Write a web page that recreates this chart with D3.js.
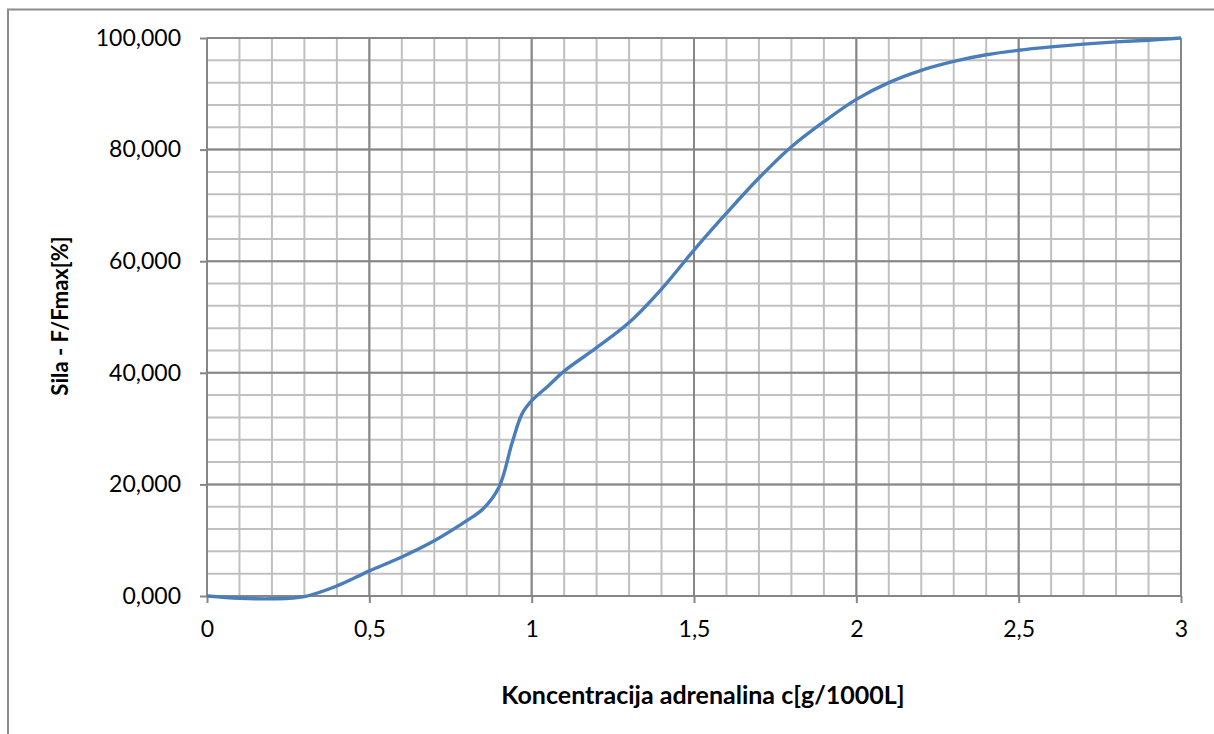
<!DOCTYPE html>
<html>
<head>
<meta charset="utf-8">
<script src="https://cdn.jsdelivr.net/npm/d3@7"></script>
<style>
  html, body { margin: 0; padding: 0; background: #fff; }
  svg { display: block; }
</style>
</head>
<body>
<svg id="chart" width="1214" height="734"></svg>
<script>
// ---- Data ----
const concentration = [0, 0.1, 0.2, 0.3, 0.4, 0.5, 0.6, 0.7, 0.8, 0.85, 0.9, 0.94, 0.97, 1.0, 1.05, 1.1, 1.2, 1.3, 1.4, 1.5, 1.6, 1.7, 1.8, 1.9, 2.0, 2.1, 2.2, 2.3, 2.4, 2.5, 2.6, 2.7, 2.8, 2.9, 3.0];
const force = [0, -0.4, -0.5, -0.1, 1.8, 4.5, 7.0, 9.9, 13.5, 15.6, 19.6, 27.5, 32.6, 35.0, 37.6, 40.3, 44.5, 49.0, 55.0, 62.0, 68.6, 74.9, 80.5, 85.0, 89.0, 92.0, 94.2, 95.8, 97.0, 97.8, 98.4, 98.9, 99.3, 99.6, 100];
const xTickValues = [0, 0.5, 1, 1.5, 2, 2.5, 3];
const xTickLabels = ["0", "0,5", "1", "1,5", "2", "2,5", "3"];
const yTickValues = [0, 20, 40, 60, 80, 100];
const yTickLabels = ["0,000", "20,000", "40,000", "60,000", "80,000", "100,000"];
const xTitle = "Koncentracija adrenalina c[g/1000L]";
const yTitle = "Sila - F/Fmax[%]";

// ---- Layout ----
const svg = d3.select("#chart");
const pLeft = 207, pRight = 1181, pTop = 38, pBottom = 596;
const x = d3.scaleLinear().domain([0, 3]).range([pLeft, pRight]);
const y = d3.scaleLinear().domain([0, 100]).range([pBottom, pTop]);
const font = "Lato, 'Open Sans', sans-serif";

// outer chart frame
svg.append("rect")
  .attr("x", 8).attr("y", 9.5).attr("width", 1400).attr("height", 1000)
  .attr("fill", "none").attr("stroke", "#8c8c8c").attr("stroke-width", 2);

const grid = svg.append("g");
// minor grid
const xMinor = d3.range(0, 31).map(i => i / 10);
const yMinor = d3.range(0, 26).map(i => i * 4);
grid.selectAll("line.vminor").data(xMinor).join("line")
  .attr("class", "vminor")
  .attr("x1", d => x(d)).attr("x2", d => x(d)).attr("y1", pTop).attr("y2", pBottom)
  .attr("stroke", "#c0c0c0").attr("stroke-width", 2);
grid.selectAll("line.hminor").data(yMinor).join("line")
  .attr("class", "hminor")
  .attr("y1", d => y(d)).attr("y2", d => y(d)).attr("x1", pLeft).attr("x2", pRight)
  .attr("stroke", "#c0c0c0").attr("stroke-width", 2);
// major grid
grid.selectAll("line.vmajor").data(xTickValues).join("line")
  .attr("class", "vmajor")
  .attr("x1", d => x(d)).attr("x2", d => x(d)).attr("y1", pTop).attr("y2", pBottom)
  .attr("stroke", "#868686").attr("stroke-width", 2);
grid.selectAll("line.hmajor").data(yTickValues).join("line")
  .attr("class", "hmajor")
  .attr("y1", d => y(d)).attr("y2", d => y(d)).attr("x1", pLeft).attr("x2", pRight)
  .attr("stroke", "#868686").attr("stroke-width", 2);

// axes
const xAxis = d3.axisBottom(x).tickValues(xTickValues)
  .tickFormat((d, i) => xTickLabels[i]).tickSize(7).tickPadding(18);
const gx = svg.append("g").attr("transform", `translate(0,${pBottom})`).call(xAxis);
gx.select(".domain").remove();
gx.selectAll(".tick line").attr("stroke", "#868686").attr("stroke-width", 2);
gx.selectAll(".tick text").attr("font-family", font).attr("font-size", 23).attr("fill", "#000");

const yAxis = d3.axisLeft(y).tickValues(yTickValues)
  .tickFormat((d, i) => yTickLabels[i]).tickSize(7).tickPadding(19);
const gy = svg.append("g").attr("transform", `translate(${pLeft},0)`).call(yAxis);
gy.select(".domain").remove();
gy.selectAll(".tick line").attr("stroke", "#868686").attr("stroke-width", 2);
gy.selectAll(".tick text").attr("font-family", font).attr("font-size", 23).attr("fill", "#000");

// curve
const pts = concentration.map((c, i) => [c, force[i]]);
svg.append("path")
  .datum(pts)
  .attr("fill", "none")
  .attr("stroke", "#4a7ebb")
  .attr("stroke-width", 3.4)
  .attr("stroke-linejoin", "round")
  .attr("d", d3.line().x(d => x(d[0])).y(d => y(d[1])).curve(d3.curveCatmullRom.alpha(0.5)));

// titles
svg.append("text")
  .attr("x", 703).attr("y", 704)
  .attr("text-anchor", "middle")
  .attr("font-family", font).attr("font-weight", "bold").attr("font-size", 25)
  .text(xTitle);
svg.append("text")
  .attr("transform", "translate(68,316) rotate(-90)")
  .attr("text-anchor", "middle")
  .attr("font-family", font).attr("font-weight", "bold").attr("font-size", 22)
  .text(yTitle);
</script>
</body>
</html>
